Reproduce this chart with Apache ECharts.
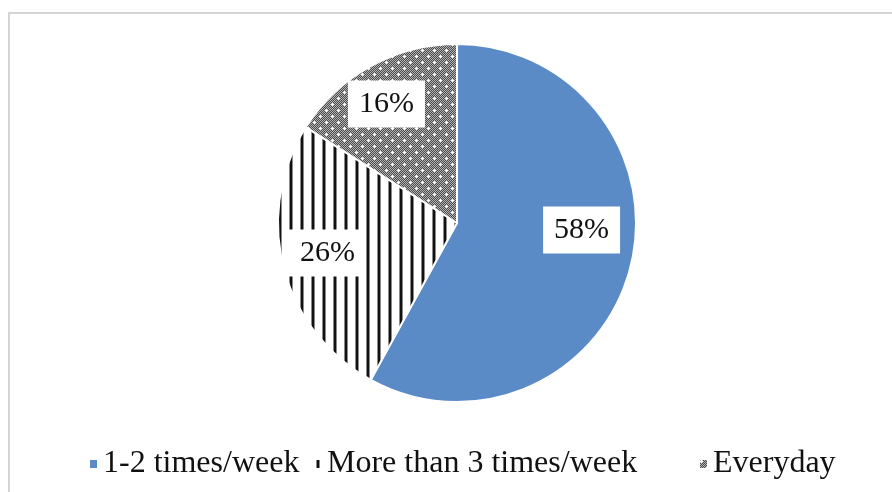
<!DOCTYPE html>
<html>
<head>
<meta charset="utf-8">
<script src="https://cdn.jsdelivr.net/npm/echarts@6/dist/echarts.min.js"></script>
<style>
  html, body { margin: 0; padding: 0; background: #fff; }
  #chart { width: 892px; height: 492px; }
</style>
</head>
<body>
<div id="chart"></div>
<script>
const categories = ['1-2 times/week', 'More than 3 times/week', 'Everyday'];
const shares = [58, 26, 16];

// label nudges away from the default mid-radius spot (Excel-like placement)
const labelShift = [[35, -16], [-40, 7], [-26, -38]];
// left edge of each legend entry
const legendLeft = [88, 312, 698];

// vertical stripes
function stripeFill() {
  const c = document.createElement('canvas');
  c.width = 11; c.height = 4;
  const g = c.getContext('2d');
  g.fillStyle = '#fff'; g.fillRect(0, 0, 11, 4);
  g.fillStyle = '#8a8a8a'; g.fillRect(3, 0, 1, 4); g.fillRect(6, 0, 1, 4);
  g.fillStyle = '#111'; g.fillRect(4, 0, 2, 4);
  return { image: c, repeat: 'repeat' };
}

// fine checker with white sparkles
function dotFill() {
  const c = document.createElement('canvas');
  c.width = 12; c.height = 12;
  const g = c.getContext('2d');
  for (let y = 0; y < 12; y++) {
    for (let x = 0; x < 12; x++) {
      g.fillStyle = (x + y) % 2 ? '#4a4a4a' : '#b4b4b4';
      g.fillRect(x, y, 1, 1);
    }
  }
  g.fillStyle = '#fff';
  [[2, 2], [8, 8]].forEach(function (p) {
    g.fillRect(p[0], p[1] - 1, 1, 3);
    g.fillRect(p[0] - 1, p[1], 3, 1);
  });
  return { image: c, repeat: 'repeat' };
}

const fills = ['#5b8bc7', stripeFill(), dotFill()];

const chart = echarts.init(document.getElementById('chart'));
chart.setOption({
  backgroundColor: '#fff',
  animation: false,
  graphic: [{
    type: 'rect',
    shape: { x: 9, y: 13, width: 900, height: 500 },
    style: { fill: 'none', stroke: '#d4d4d4', lineWidth: 2 },
    silent: true
  }],
  legend: categories.map(function (name, i) {
    return {
      top: 448,
      left: legendLeft[i],
      padding: 0,
      itemWidth: 9,
      itemHeight: 10,
      icon: 'rect',
      textStyle: {
        fontFamily: 'Liberation Serif',
        fontSize: 32,
        color: '#111'
      },
      data: [name]
    };
  }),
  series: [{
    type: 'pie',
    center: [457, 223],
    radius: 179,
    startAngle: 90,
    clockwise: true,
    itemStyle: {
      borderColor: '#fff',
      borderWidth: 2
    },
    label: {
      show: true,
      position: 'inside',
      formatter: '{c}%',
      fontFamily: 'Liberation Serif',
      fontSize: 30,
      color: '#111',
      backgroundColor: '#fff',
      padding: [9, 11, 8, 11]
    },
    labelLine: { show: false },
    labelLayout: function (params) {
      const s = labelShift[params.dataIndex];
      return { dx: s[0], dy: s[1] };
    },
    emphasis: { disabled: true },
    data: categories.map(function (name, i) {
      return { name: name, value: shares[i], itemStyle: { color: fills[i] } };
    })
  }]
});
</script>
</body>
</html>
